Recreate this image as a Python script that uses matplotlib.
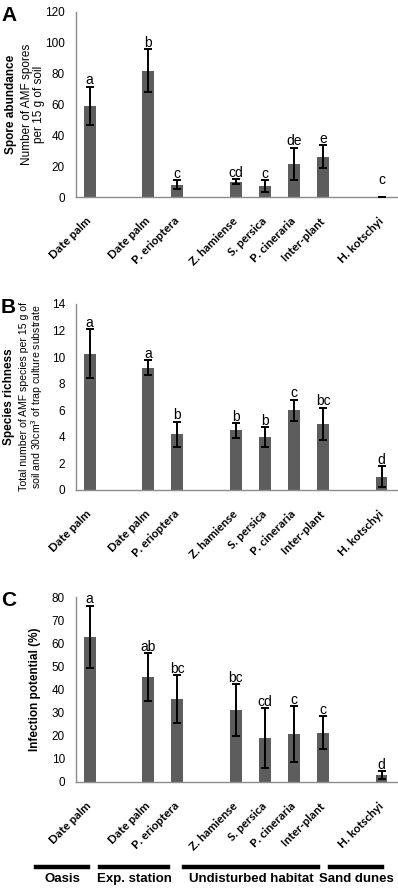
import numpy as np
import matplotlib
matplotlib.use('Agg')
import matplotlib.pyplot as plt
from matplotlib.lines import Line2D

plt.rcParams['font.family'] = ['Liberation Sans', 'DejaVu Sans']

nan = np.nan
categories = ['Date palm', '', 'Date palm', 'P. erioptera', '', 'Z. hamiense',
              'S. persica', 'P. cineraria', 'Inter-plant', '', 'H. kotschyi']

spore_mean = [59, nan, 82, 8, nan, 10, 7, 21.5, 26, nan, 0.3]
spore_err = [12.5, nan, 14, 3, nan, 1.5, 4, 10.5, 7.5, nan, 0]
spore_letters = ['a', '', 'b', 'c', '', 'cd', 'c', 'de', 'e', '', 'c']

richness_mean = [10.26, nan, 9.2, 4.2, nan, 4.5, 4.0, 6.0, 5.0, nan, 1.0]
richness_err = [1.85, nan, 0.55, 0.95, nan, 0.55, 0.75, 0.8, 1.2, nan, 0.8]
richness_letters = ['a', '', 'a', 'b', '', 'b', 'b', 'c', 'bc', '', 'd']

infection_mean = [62.7, nan, 45.5, 35.8, nan, 31, 19, 20.8, 21.4, nan, 3.0]
infection_err = [13.5, nan, 10.3, 10.4, nan, 11.3, 13, 12, 7.2, nan, 1.8]
infection_letters = ['a', '', 'ab', 'bc', '', 'bc', 'cd', 'c', 'c', '', 'd']

groups = ['Oasis', 'Exp. station', 'Undisturbed habitat', 'Sand dunes']

W, H = 398, 890
fig = plt.figure(figsize=(W / 100, H / 100), dpi=100)

panels = [
    ('A', spore_mean, spore_err, spore_letters, 120, 20, (12, 197)),
    ('B', richness_mean, richness_err, richness_letters, 14, 2, (304, 490)),
    ('C', infection_mean, infection_err, infection_letters, 80, 10, (597, 782)),
]

x = np.arange(len(categories))
for name, mean, err, letters, ymax, step, (ytop, ybot) in panels:
    ax = fig.add_axes([76 / W, 1 - ybot / H, 1 - 76 / W, (ybot - ytop) / H])
    mean = np.array(mean, dtype=float)
    err = np.array(err, dtype=float)
    ax.bar(x, mean, width=0.4, color='#5d5d5d', zorder=2)
    ax.errorbar(x, mean, yerr=err, fmt='none', ecolor='black', elinewidth=1.4,
                capsize=3, capthick=1.4, zorder=3)
    for xi, m, e, lab in zip(x, mean, err, letters):
        if not lab:
            continue
        top = max(m + e, 0.06 * ymax)
        ax.annotate(lab, (xi, top), xytext=(0, -0.5), textcoords='offset points',
                    ha='center', va='bottom', fontsize=10)
    ax.set_xlim(-0.47, 10.56)
    ax.set_ylim(0, ymax)
    ax.set_yticks(np.arange(0, ymax + step / 2, step))
    ax.set_xticks(x)
    ax.set_xticklabels(categories, rotation=45, ha='right', va='center',
                       rotation_mode='anchor', fontsize=9.5, fontweight='bold',
                       family=['Lato', 'DejaVu Sans'])
    ax.tick_params(axis='both', length=0, labelsize=8.5)
    ax.tick_params(axis='y', pad=8)
    ax.tick_params(axis='x', pad=16)
    for s in ['top', 'right']:
        ax.spines[s].set_visible(False)
    for s in ['left', 'bottom']:
        ax.spines[s].set_color('#8c8c8c')
        ax.spines[s].set_linewidth(1.0)
    fig.text(1 / W, 1 - (ytop - 6) / H, name, fontsize=15, fontweight='bold',
             ha='left', va='top')

# y axis labels
yc = [1 - (12 + 197) / 2 / H, 1 - (304 + 490) / 2 / H, 1 - (597 + 782) / 2 / H]
fig.text(11 / W, yc[0], 'Spore abundance', rotation=90, ha='center', va='center',
         fontsize=8.5, fontweight='bold')
fig.text(33 / W, yc[0], 'Number of AMF spores\nper 15 g of soil', rotation=90,
         ha='center', va='center', fontsize=8.5, linespacing=1.1)
fig.text(9 / W, yc[1], 'Species richness', rotation=90, ha='center', va='center',
         fontsize=8.5, fontweight='bold')
fig.text(32 / W, yc[1], 'Total number of AMF species per 15 g of\n'
         'soil and 30cm$^3$ of trap culture substrate', rotation=90,
         ha='center', va='center', fontsize=7.6, linespacing=1.1)
fig.text(35 / W, yc[2], 'Infection potential (%)', rotation=90, ha='center',
         va='center', fontsize=8.5, fontweight='bold')

# habitat group bars
spans = [(36, 88), (100, 168), (184, 318), (330, 382)]
for (x0, x1), g in zip(spans, groups):
    fig.add_artist(Line2D([x0 / W, x1 / W], [1 - 867 / H, 1 - 867 / H],
                          color='black', linewidth=3.2, transform=fig.transFigure))
    fig.text((x0 + x1) / 2 / W, 1 - 879 / H, g, ha='center', va='center',
             fontsize=9.5, fontweight='bold')

fig.savefig('out.png', dpi=100)
